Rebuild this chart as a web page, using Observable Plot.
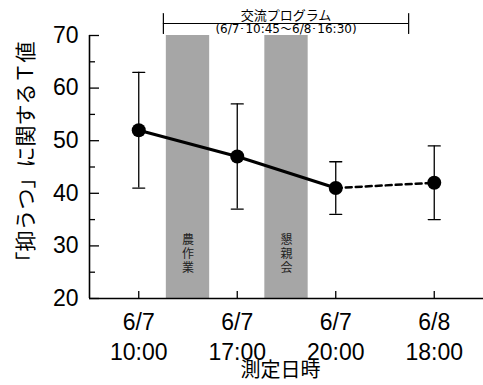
<!DOCTYPE html>
<html><head><meta charset="utf-8">
<script src="https://cdn.jsdelivr.net/npm/d3@7"></script>
<script src="https://cdn.jsdelivr.net/npm/@observablehq/plot@0.6"></script>
<style>body{margin:0;background:#fff}</style>
</head><body><div id="chart"></div>
<script>
const timeLabels = ["6/7\n10:00", "6/7\n17:00", "6/7\n20:00", "6/8\n18:00"];
const means = [52, 47, 41, 42];
const lows = [41, 37, 36, 35];
const highs = [63, 57, 46, 49];
const yTicks = [20, 30, 40, 50, 60, 70];
const yMinorTicks = [25, 35, 45, 55, 65];
const activityLabels = ["農\n作\n業", "懇\n親\n会"];
const activityStarts = [0.28, 1.28];
const activityEnds = [0.72, 1.72];
const programTitle = "交流プログラム";
const programSub = "(6/7･10:45～6/8･16:30)";
const programStart = 0.25;
const programEnd = 2.74;

const data = timeLabels.map((t, i) => ({i, t, mean: means[i], lo: lows[i], hi: highs[i]}));
const acts = activityLabels.map((l, k) => ({label: l, start: activityStarts[k], end: activityEnds[k]}));
const prog = [{start: programStart, end: programEnd, mid: (programStart + programEnd) / 2}];
const progEnds = [programStart, programEnd];
const jp = "'Noto Sans CJK JP', sans-serif";
const capShape = {draw(ctx, l) { ctx.moveTo(0, 0); ctx.lineTo(0, -l); }};

const chart = Plot.plot({
  width: 483, height: 385,
  marginLeft: 89, marginRight: 0, marginTop: 35, marginBottom: 87,
  style: {fontFamily: "'Liberation Sans', Arial, sans-serif", background: "white", color: "black"},
  x: {type: "linear", domain: [-0.5, 3.5]},
  y: {domain: [20, 70]},
  marks: [
    Plot.rect(acts, {x1: "start", x2: "end", y1: 20, y2: 70, fill: "#a6a6a6"}),
    Plot.text(acts, {x: d => (d.start + d.end) / 2, y: 28.5, text: "label", fontSize: 12, lineHeight: 1.15, fontFamily: jp, fill: "#222"}),
    // program bracket
    Plot.ruleY(prog, {y: () => 70, x1: "start", x2: "end", dy: -12, stroke: "black", strokeWidth: 1.2}),
    Plot.vector(progEnds, {x: d => d, y: () => 70, dy: -12, length: 20, anchor: "middle", shape: capShape, stroke: "black", strokeWidth: 1.2}),
    Plot.text(prog, {x: "mid", y: () => 70, dy: -20, text: () => programTitle, fontSize: 13, fontFamily: jp}),
    Plot.text(prog, {x: "mid", y: () => 70, dy: -6, text: () => programSub, fontSize: 12, fontFamily: "'DejaVu Sans', sans-serif"}),
    Plot.axisY({ticks: yTicks, tickSize: -10, tickFormat: () => "", label: null, strokeWidth: 1.3}),
    Plot.axisY({ticks: yMinorTicks, tickSize: -6, tickFormat: () => "", label: null, strokeWidth: 1.3}),
    Plot.axisY({ticks: yTicks, tickSize: 0, tickPadding: 11, fontSize: 23, label: null}),
    Plot.axisX({ticks: [0, 1, 2, 3], tickSize: -7, tickFormat: () => "", label: null, strokeWidth: 1.3}),
    Plot.axisX({ticks: [0, 1, 2, 3], tickSize: 0, tickPadding: 10, fontSize: 23, lineHeight: 1.3, tickFormat: i => timeLabels[i], label: null}),
    Plot.ruleX([-0.5], {stroke: "black", strokeWidth: 1.6}),
    Plot.ruleY([20], {stroke: "black", strokeWidth: 1.6}),
    Plot.text(["「抑うつ」に関するＴ値"], {frameAnchor: "left", textAnchor: "middle", lineAnchor: "middle", rotate: -90, dx: -63, dy: -10, fontSize: 21, fontFamily: jp}),
    Plot.text(["測定日時"], {frameAnchor: "bottom", lineAnchor: "middle", dx: -6, dy: 72, fontSize: 20, fontFamily: jp}),
    // error bars
    Plot.ruleX(data, {x: "i", y1: "lo", y2: "hi", stroke: "black", strokeWidth: 1.3}),
    Plot.vector(data, {x: "i", y: "hi", length: 12, rotate: 90, anchor: "middle", shape: capShape, stroke: "black", strokeWidth: 1.3}),
    Plot.vector(data, {x: "i", y: "lo", length: 12, rotate: 90, anchor: "middle", shape: capShape, stroke: "black", strokeWidth: 1.3}),
    Plot.line(data.slice(0, 3), {x: "i", y: "mean", stroke: "black", strokeWidth: 3}),
    Plot.line(data.slice(2), {x: "i", y: "mean", stroke: "black", strokeWidth: 2.5, strokeDasharray: "6,4"}),
    Plot.dot(data, {x: "i", y: "mean", r: 7, fill: "black", stroke: "none"})
  ]
});
document.getElementById("chart").appendChild(chart);
</script>
</body></html>
